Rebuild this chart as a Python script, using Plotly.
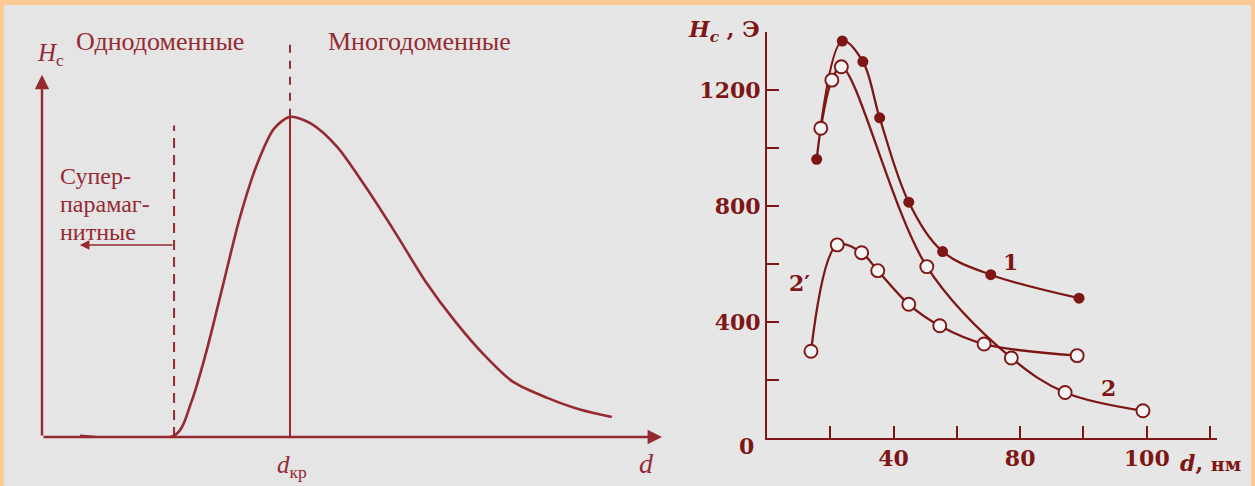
import plotly.graph_objects as go

W, H = 1255, 486

# ---------------- Left chart (schematic, arbitrary units) ----------------
left_d = [6.1, 21.5, 24.1, 26.5, 29.2, 31.9, 34.7, 37.4, 40.0, 43.4, 47.6, 52.3,
          57.1, 61.8, 66.6, 71.3, 76.0, 81.5, 86.9, 91.9]
left_hc = [0.3, 0.6, 9.7, 23.5, 42.0, 60.5, 75.4, 85.1, 88.4, 86.5, 80.1, 68.8,
           56.1, 43.1, 32.0, 22.7, 15.2, 10.8, 7.5, 5.5]
d_sp = 21.3      # superparamagnetic limit
d_cr = 40.0      # critical diameter
hc_peak = 88.4

# ---------------- Right chart (experimental) ----------------
s1_d = [15.7, 23.8, 30.3, 35.6, 44.8, 55.5, 70.7, 98.6]
s1_hc = [961, 1369, 1298, 1104, 813, 643, 563, 482]

s2_d = [17.0, 20.5, 23.5, 50.5, 77.2, 94.2, 118.8]
s2_hc = [1068, 1234, 1280, 591, 276, 157, 94]

s2p_d = [13.9, 22.2, 29.9, 35.0, 44.8, 54.6, 68.6, 98.0]
s2p_hc = [299, 666, 639, 577, 461, 387, 324, 284]

x_tickvals = [20, 40, 60, 80, 100, 120, 140]
x_ticktext = ["", "40", "", "80", "", "100", ""]
y_tickvals = [0, 200, 400, 600, 800, 1000, 1200]
y_ticktext = ["", "", "400", "", "800", "", "1200"]

LC = "#952a33"   # left colour
RC = "#7e1616"   # right colour
BG = "#e5e5e5"
BORDER = "#fdca96"
SERIF = "Liberation Serif"
BSERIF = "DejaVu Serif"


def px(x):
    return x / W


def py(y):
    return 1 - y / H


def label(x, y, text, size, family, color, xanchor="center"):
    return dict(x=px(x), y=py(y), xref="paper", yref="paper", text=text, showarrow=False,
                xanchor=xanchor, yanchor="middle",
                font=dict(family=family, size=size, color=color))


fig = go.Figure()

fig.add_trace(go.Scatter(x=left_d, y=left_hc, mode="lines",
                         line=dict(color=LC, width=2.6, shape="spline", smoothing=0.8),
                         xaxis="x", yaxis="y", showlegend=False, hoverinfo="skip"))

fig.add_trace(go.Scatter(x=s1_d, y=s1_hc, mode="lines+markers",
                         line=dict(color=RC, width=2.3, shape="spline", smoothing=1.0),
                         marker=dict(symbol="circle", size=11, color=RC, line=dict(width=0)),
                         xaxis="x2", yaxis="y2", showlegend=False))
fig.add_trace(go.Scatter(x=s2_d, y=s2_hc, mode="lines",
                         line=dict(color=RC, width=2.3, shape="spline", smoothing=1.0),
                         xaxis="x2", yaxis="y2", showlegend=False))
fig.add_trace(go.Scatter(x=s2p_d, y=s2p_hc, mode="lines",
                         line=dict(color=RC, width=2.3, shape="spline", smoothing=1.0),
                         xaxis="x2", yaxis="y2", showlegend=False))
fig.add_trace(go.Scatter(x=s2_d + s2p_d, y=s2_hc + s2p_hc, mode="markers",
                         marker=dict(symbol="circle", size=13, color="#f4f4f4",
                                     line=dict(width=1.9, color=RC)),
                         xaxis="x2", yaxis="y2", showlegend=False))

# ---- geometry of the axes (pixel domains) ----
L_X0, L_X1 = 42, 662
L_Y0, L_Y1 = 437, 35
R_X0, R_X1 = 767, 1217
R_Y0, R_Y1 = 438, 32

shapes = [
    dict(type="rect", xref="paper", yref="paper", x0=px(4), x1=px(665), y0=0, y1=py(5),
         fillcolor=BG, line=dict(width=0), layer="below"),
    dict(type="rect", xref="paper", yref="paper", x0=px(665), x1=px(1251), y0=0, y1=py(5),
         fillcolor="#e6e6e6", line=dict(width=0), layer="below"),
    # left chart vertical markers
    dict(type="line", xref="x", yref="y", x0=d_cr, x1=d_cr, y0=0, y1=hc_peak,
         line=dict(color=LC, width=2)),
    dict(type="line", xref="x", yref="y", x0=d_cr, x1=d_cr, y0=hc_peak, y1=110,
         line=dict(color=LC, width=2, dash="8px,8px")),
    dict(type="line", xref="x", yref="y", x0=d_sp, x1=d_sp, y0=0, y1=86,
         line=dict(color=LC, width=2, dash="10px,7px")),
]

annotations = [
    # left axes arrows
    dict(x=0, y=100, ax=0, ay=0, xref="x", yref="y", axref="x", ayref="y", text="",
         showarrow=True, arrowhead=2, arrowsize=1.2, arrowwidth=2.4, arrowcolor=LC),
    dict(x=100, y=0, ax=0, ay=0, xref="x", yref="y", axref="x", ayref="y", text="",
         showarrow=True, arrowhead=2, arrowsize=1.2, arrowwidth=2.4, arrowcolor=LC),
    dict(x=6.1, y=53, ax=d_sp, ay=53, xref="x", yref="y", axref="x", ayref="y", text="",
         showarrow=True, arrowhead=2, arrowsize=1.2, arrowwidth=1.6, arrowcolor=LC),
    # left texts
    label(160, 42, "Однодоменные", 26, SERIF, LC),
    label(419, 42, "Многодоменные", 26, SERIF, LC),
    label(50, 55, "<i>H</i><sub>c</sub>", 25, SERIF, LC),
    label(58, 176, "Супер-", 24, SERIF, LC, xanchor="left"),
    label(58, 204, "парамаг-", 24, SERIF, LC, xanchor="left"),
    label(58, 232, "нитные", 24, SERIF, LC, xanchor="left"),
    label(292, 466, "<i>d</i><sub>кр</sub>", 25, SERIF, LC),
    label(646, 463, "<i>d</i>", 28, SERIF, LC),
    # right texts
    label(746, 446, "<b>0</b>", 22, BSERIF, RC),
    label(724, 31, "<b><i>H</i><sub><i>c</i></sub> , Э</b>", 22, BSERIF, RC),
    label(1210, 463, "<b><i>d</i>, <span style='font-size:19px'>нм</span></b>", 22, BSERIF, RC),
    dict(x=76.8, y=607, xref="x2", yref="y2", text="<b>1</b>", showarrow=False,
         font=dict(family=BSERIF, size=22, color=RC)),
    dict(x=107.8, y=172, xref="x2", yref="y2", text="<b>2</b>", showarrow=False,
         font=dict(family=BSERIF, size=22, color=RC)),
    dict(x=10.4, y=534, xref="x2", yref="y2", text="<b>2′</b>", showarrow=False,
         font=dict(family=BSERIF, size=22, color=RC)),
]

fig.update_layout(
    width=W, height=H,
    margin=dict(l=0, r=0, t=0, b=0),
    paper_bgcolor=BORDER,
    plot_bgcolor="rgba(0,0,0,0)",
    showlegend=False,
    xaxis=dict(domain=[px(L_X0), px(L_X1)], range=[0, 100], visible=False, fixedrange=True),
    yaxis=dict(domain=[py(L_Y0), py(L_Y1)], range=[0, 111], visible=False, fixedrange=True),
    xaxis2=dict(domain=[px(R_X0), px(R_X1)], range=[0, 142.2], anchor="y2",
                showline=True, linecolor=RC, linewidth=2, showgrid=False, zeroline=False,
                ticks="inside", ticklen=12, tickwidth=2, tickcolor=RC,
                tickvals=x_tickvals, ticktext=x_ticktext,
                tickfont=dict(family=BSERIF, size=22, color=RC, weight="bold")),
    yaxis2=dict(domain=[py(R_Y0), py(R_Y1)], range=[0, 1400], anchor="x2",
                showline=True, linecolor=RC, linewidth=2, showgrid=False, zeroline=False,
                ticks="inside", ticklen=12, tickwidth=2, tickcolor=RC,
                tickvals=y_tickvals, ticktext=y_ticktext,
                tickfont=dict(family=BSERIF, size=22, color=RC, weight="bold")),
    shapes=shapes,
    annotations=annotations,
)

fig.write_html(
    "out.html",
    config={"displayModeBar": False},
    post_script="document.body.style.margin='0px';"
                "document.body.style.background='" + BORDER + "';"
                "document.documentElement.style.overflow='hidden';",
)
